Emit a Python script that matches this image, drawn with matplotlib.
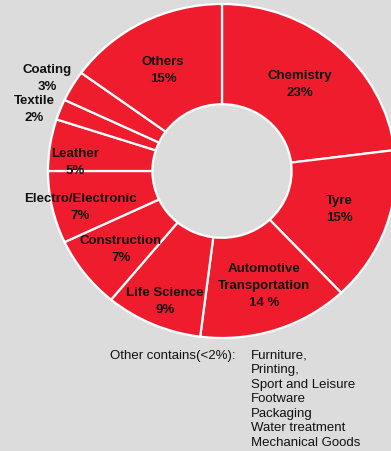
import matplotlib.pyplot as plt

plt.rcParams['font.family'] = ['Liberation Sans', 'DejaVu Sans']

# clockwise from 12 o'clock
sectors = ['Chemistry', 'Tyre', 'Automotive\nTransportation', 'Life Science', 'Construction',
           'Electro/Electronic', 'Leather', 'Textile', 'Coating', 'Others']
shares = [23, 15, 14, 9, 7, 7, 5, 2, 3, 15]
share_text = ['23%', '15%', '14 %', '9%', '7%', '7%', '5%', '2%', '3%', '15%']

others_list = ['Furniture,', 'Printing,', 'Sport and Leisure', 'Footware',
               'Packaging', 'Water treatment', 'Mechanical Goods']

W, H = 391, 452
red = '#ef1c2e'
bg = '#dcdcdc'

fig = plt.figure(figsize=(W / 100, H / 100), dpi=100, facecolor=bg)

# pie is slightly wider than tall in the reference, so the axes is not square
cx, cy, rx, ry = 222, 172, 174, 167
ax = fig.add_axes([(cx - rx) / W, 1 - (cy + ry) / H, 2 * rx / W, 2 * ry / H])
ax.set_facecolor('none')
ax.pie(shares, startangle=90, counterclock=False, colors=[red] * len(shares),
       radius=1, wedgeprops=dict(width=0.6, edgecolor='white', linewidth=1.6))
ax.set_xlim(-1, 1)
ax.set_ylim(-1, 1)
ax.set_aspect('auto')
ax.axis('off')

# label centres in pixels (x, y of the first line)
label_pos = [(300, 75), (339, 200), (264, 268), (165, 292), (121, 240),
             (80, 198), (75, 153), (34, 100), (47, 69), (163, 61)]
for name, pct, (x, y) in zip(sectors, share_text, label_pos):
    fig.text(x / W, 1 - (y - 5) / H, name + '\n' + pct, ha='center', va='top',
             fontsize=9.5, fontweight='bold', color='#111111', linespacing=1.56)

fig.text(110 / W, 1 - 356 / H, 'Other contains(<2%):', ha='left', va='center',
         fontsize=9.5, color='#111111')
for i, item in enumerate(others_list):
    fig.text(251 / W, 1 - (356 + i * 14.5) / H, item, ha='left', va='center',
             fontsize=9.5, color='#111111')

fig.savefig('out.png', dpi=100, facecolor=bg)
